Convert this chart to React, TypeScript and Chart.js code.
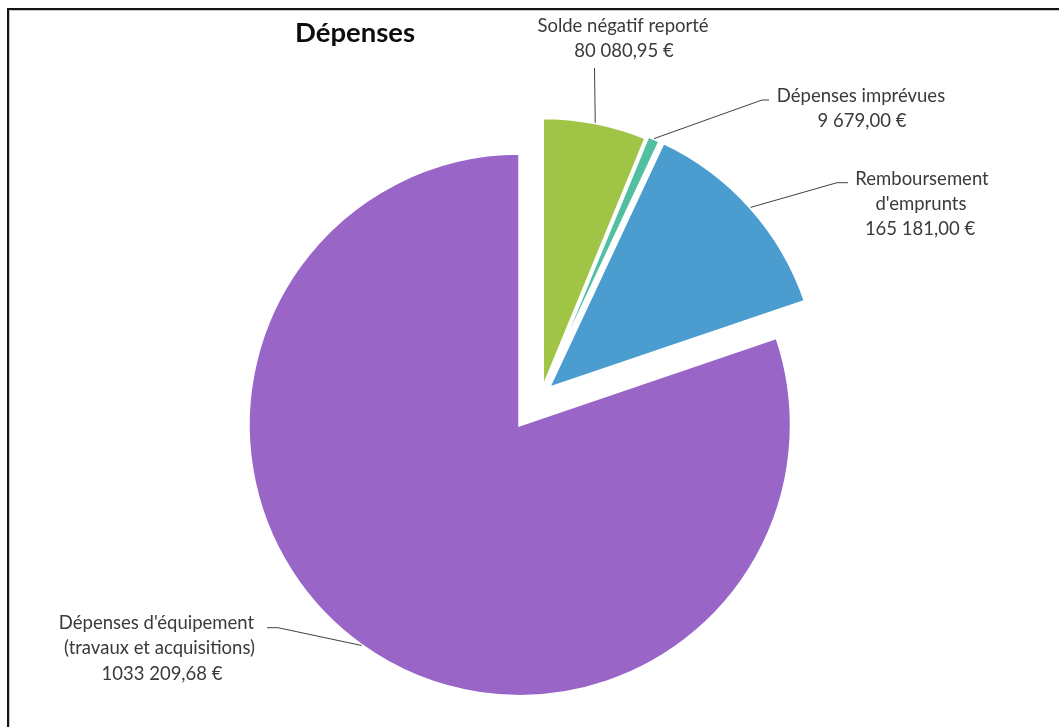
import React, { useEffect, useRef } from "react";
import { Chart, registerables } from "chart.js";

Chart.register(...registerables);

// ---- data ----
const categories = [
  "Solde négatif reporté",
  "Dépenses imprévues",
  "Remboursement d'emprunts",
  "Dépenses d'équipement (travaux et acquisitions)",
];
const values = [80080.95, 9679.0, 165181.0, 1033209.68];
const valueLabels = ["80 080,95 €", "9 679,00 €", "165 181,00 €", "1033 209,68 €"];
const nameLines = [
  ["Solde négatif reporté"],
  ["Dépenses imprévues"],
  ["Remboursement", "d'emprunts"],
  ["Dépenses d'équipement", "(travaux et acquisitions)"],
];
const chartTitle = "Dépenses";

// ---- style / layout ----
const colors = ["#A0C446", "#52BFA0", "#4A9DCE", "#9966C8"];
const explode = [5.4, 8, 9, 37.3];
const labelCenterX = [
  [623, 624],
  [861, 862],
  [922, 921, 920],
  [156.5, 159.5, 162],
];
const labelBaseY = [31.5, 101.5, 185, 628.5];
const labelLineH = [25, 25, 25, 25.8];
const leaderPts: number[][][] = [
  [[594.5, 68]],
  [[769, 100], [762, 100]],
  [[848, 182.7], [837, 182.7]],
  [[267, 627.7], [278, 627.7]],
];
const FONT = '"Lato", "Open Sans", sans-serif';

function fitSize(ctx: CanvasRenderingContext2D, weight: string, text: string, target: number) {
  ctx.font = `${weight} 100px ${FONT}`;
  return (100 * target) / ctx.measureText(text).width;
}

const pieDecor = {
  id: "pieDecor",
  beforeDatasetDraw(chart: any) {
    const meta = chart.getDatasetMeta(0);
    const a = chart.chartArea;
    const cx = (a.left + a.right) / 2;
    const cy = (a.top + a.bottom) / 2;
    meta.data.forEach((arc: any, i: number) => {
      const mid = (arc.startAngle + arc.endAngle) / 2;
      arc.x = cx + Math.cos(mid) * explode[i];
      arc.y = cy + Math.sin(mid) * explode[i];
    });
    chart.ctx.miterLimit = 200;
  },
  afterDraw(chart: any) {
    const ctx: CanvasRenderingContext2D = chart.ctx;
    const meta = chart.getDatasetMeta(0);
    ctx.save();
    // frame
    ctx.fillStyle = "#c8c8c8";
    ctx.fillRect(9, 10, 1, 727);
    ctx.fillRect(9, 10, 1059, 1);
    ctx.fillStyle = "#141414";
    ctx.fillRect(7, 8, 2, 727);
    ctx.fillRect(7, 8, 1059, 2);

    // title
    const ts = fitSize(ctx, "bold", chartTitle, 120);
    ctx.font = `bold ${ts}px ${FONT}`;
    ctx.fillStyle = "#0d0d0d";
    ctx.textAlign = "center";
    ctx.textBaseline = "alphabetic";
    ctx.fillText(chartTitle, 355, 41.7);

    // labels
    const ls = fitSize(ctx, "normal", "Remboursement", 133.5);
    ctx.font = `normal ${ls}px ${FONT}`;
    ctx.fillStyle = "#3a3a3a";
    ctx.strokeStyle = "#404040";
    ctx.lineWidth = 1;
    meta.data.forEach((arc: any, i: number) => {
      const lines = [...nameLines[i], valueLabels[i]];
      lines.forEach((t, k) => {
        ctx.fillText(t, labelCenterX[i][k], labelBaseY[i] + k * labelLineH[i]);
      });
      const mid = (arc.startAngle + arc.endAngle) / 2;
      const ax = arc.x + Math.cos(mid) * arc.outerRadius;
      const ay = arc.y + Math.sin(mid) * arc.outerRadius;
      const pts = leaderPts[i];
      ctx.beginPath();
      ctx.moveTo(pts[0][0], pts[0][1]);
      for (let k = 1; k < pts.length; k++) ctx.lineTo(pts[k][0], pts[k][1]);
      ctx.lineTo(ax, ay);
      ctx.stroke();
    });
    ctx.restore();
  },
};

export default function App() {
  const ref = useRef<HTMLCanvasElement>(null);
  useEffect(() => {
    const chart = new Chart(ref.current as HTMLCanvasElement, {
      type: "pie",
      data: {
        labels: categories,
        datasets: [
          {
            data: values,
            backgroundColor: colors,
            borderColor: "#ffffff",
            borderWidth: 3,
            borderJoinStyle: "miter",
            radius: 271.5,
            clip: false,
          } as any,
        ],
      },
      options: {
        responsive: false,
        animation: false,
        devicePixelRatio: 1,
        events: [],
        layout: { padding: { left: 24, right: 0, top: 62, bottom: 0 } },
        plugins: {
          legend: { display: false },
          title: { display: false },
          tooltip: { enabled: false },
        },
      } as any,
      plugins: [pieDecor],
    });
    return () => chart.destroy();
  }, []);
  return (
    <div style={{ position: "absolute", left: 0, top: 0, width: 1059, height: 727, background: "#fff" }}>
      <canvas ref={ref} width={1059} height={727} style={{ display: "block", width: 1059, height: 727 }} />
    </div>
  );
}
